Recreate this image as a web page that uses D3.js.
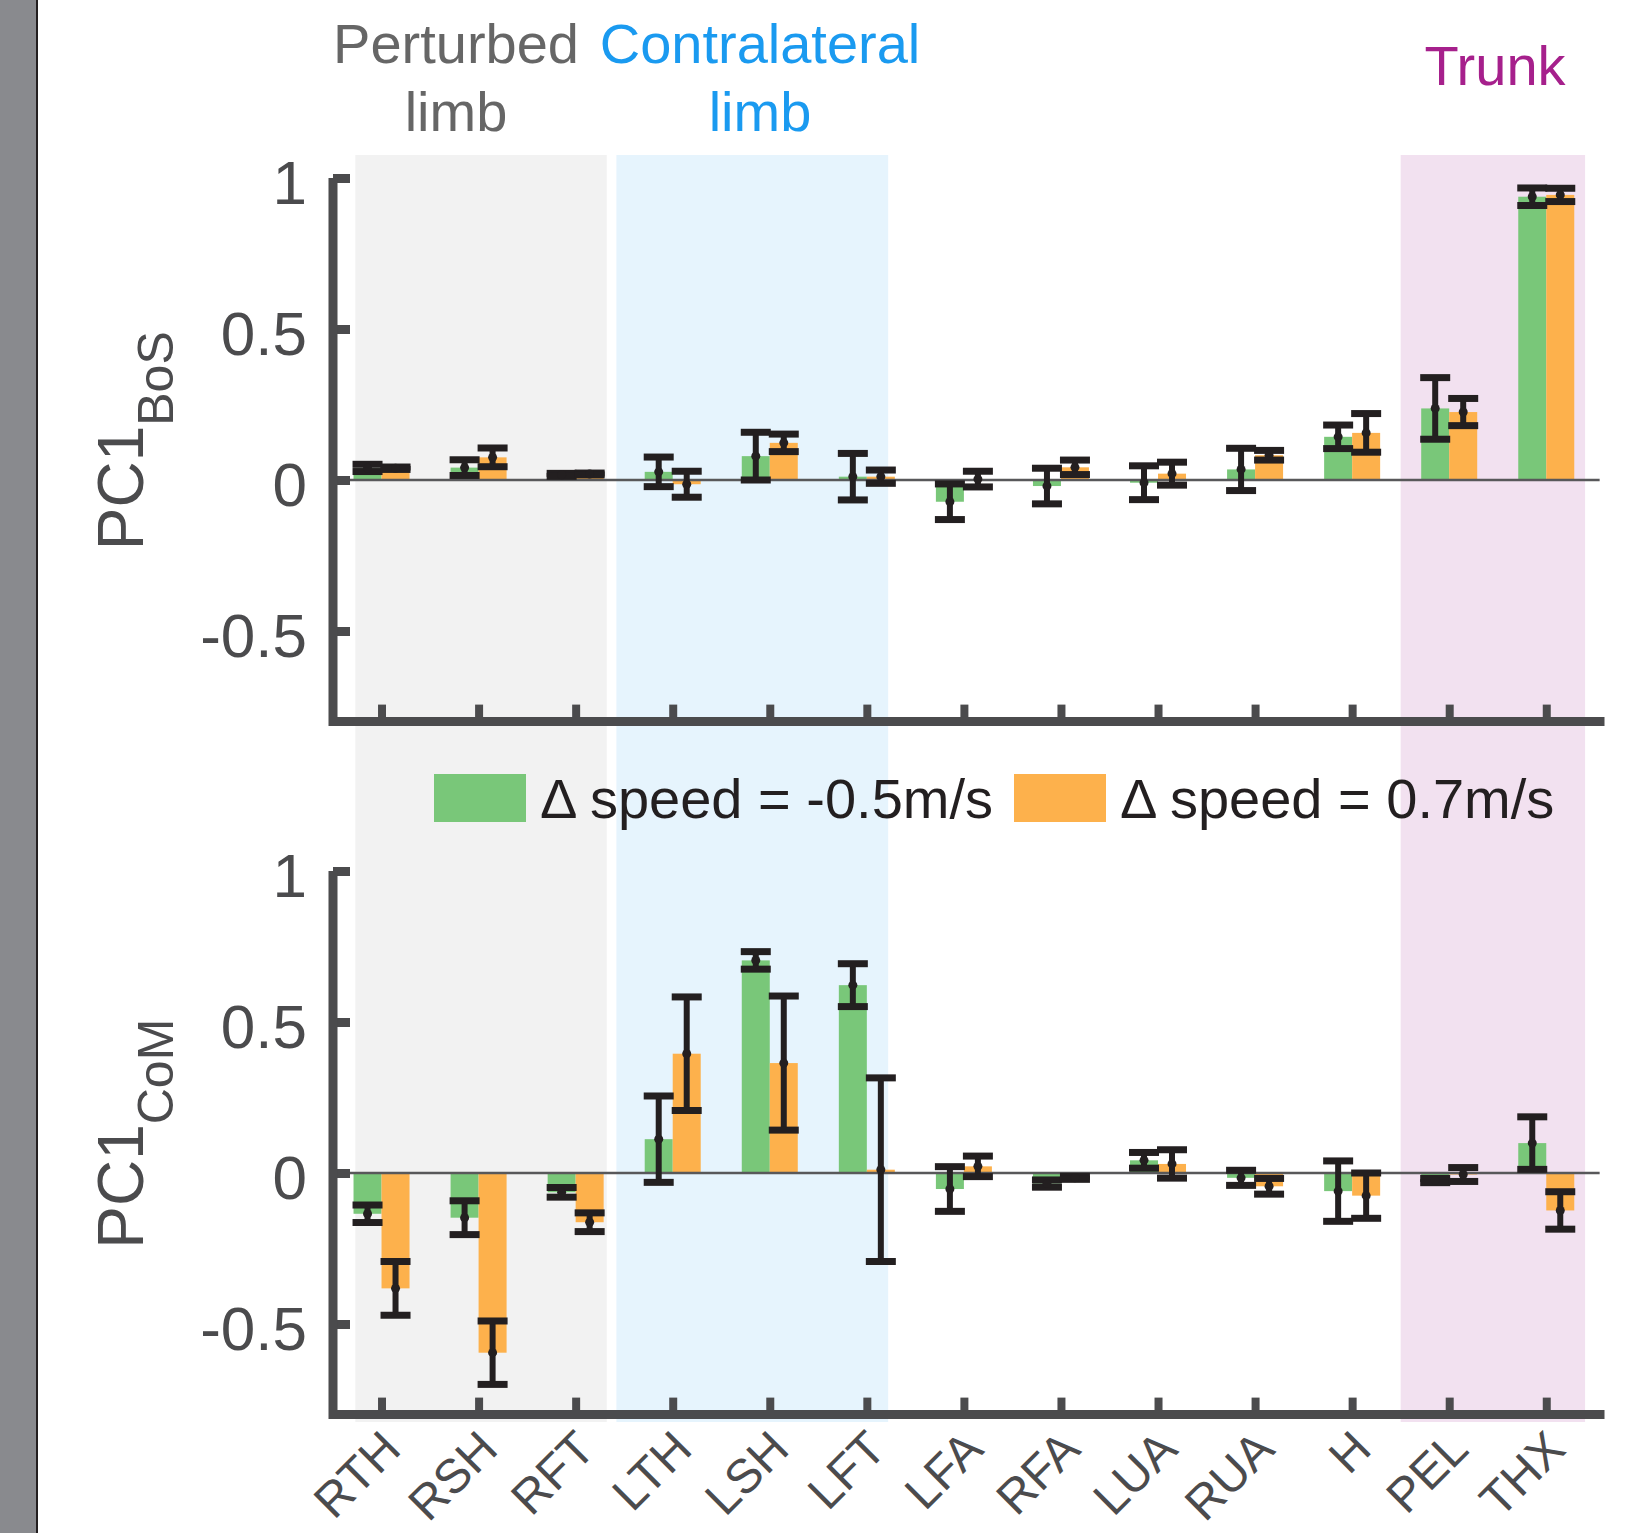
<!DOCTYPE html>
<html>
<head>
<meta charset="utf-8">
<script src="https://cdn.jsdelivr.net/npm/d3@7"></script>
<style>
    body { margin: 0; background: #fff; }
    text { font-family: "Liberation Sans", Arial, sans-serif; }
</style>
</head>
<body>
<div id="chart"></div>
<script>
/** Données */
var categories = ["RTH", "RSH", "RFT", "LTH", "LSH", "LFT", "LFA", "RFA", "LUA", "RUA", "H", "PEL", "THX"];

// PC1 BoS (panneau du haut)
var bosSlow = [0.040, 0.041, 0.017, 0.027, 0.079, 0.011, -0.072, -0.020, -0.009, 0.035, 0.143, 0.237, 0.938];
var bosSlowErr = [0.012, 0.026, 0.005, 0.049, 0.079, 0.077, 0.059, 0.059, 0.056, 0.070, 0.039, 0.102, 0.029];
var bosFast = [0.039, 0.075, 0.020, -0.014, 0.123, 0.011, 0.003, 0.042, 0.021, 0.082, 0.156, 0.225, 0.944];
var bosFastErr = [0.004, 0.031, 0.003, 0.043, 0.029, 0.022, 0.026, 0.024, 0.038, 0.016, 0.064, 0.045, 0.022];

// PC1 CoM (panneau du bas)
var comSlow = [-0.135, -0.148, -0.064, 0.112, 0.704, 0.622, -0.053, -0.035, 0.042, -0.016, -0.060, -0.025, 0.099];
var comSlowErr = [0.029, 0.056, 0.016, 0.143, 0.029, 0.071, 0.074, 0.012, 0.026, 0.025, 0.100, 0.007, 0.087];
var comFast = [-0.382, -0.595, -0.163, 0.395, 0.364, 0.011, 0.022, -0.016, 0.030, -0.044, -0.075, -0.005, -0.124];
var comFastErr = [0.089, 0.105, 0.031, 0.188, 0.222, 0.304, 0.034, 0.005, 0.047, 0.026, 0.075, 0.023, 0.062];

var yTicks = [-0.5, 0, 0.5, 1];
var legendLabels = ["\u0394 speed = -0.5m/s", "\u0394 speed = 0.7m/s"];

// zones colorées (en unités de catégorie, RTH = 1)
var zoneLabels = [["Perturbed", "limb"], ["Contralateral", "limb"], ["Trunk"]];
var zoneStart = [0.73, 3.42, 11.5];
var zoneEnd = [3.32, 6.22, 13.4];

/** Styles */
var GREEN = "#79c779",
    ORANGE = "#fdb14c",
    AXIS = "#4b4b4d",
    ERR = "#231f20";
var zoneFill = ["#f2f2f2", "#e6f4fd", "#f2e1f0"];
var zoneText = ["#666666", "#1a9af0", "#a6208c"];

/** Initialisation du SVG */
var width = 1643,
    height = 1533;

var svg = d3
    .select("#chart")
    .append("svg")
    .attr("width", width)
    .attr("height", height);

svg.append("rect").attr("width", width).attr("height", height).attr("fill", "#fff");

// bande grise à gauche
svg.append("rect").attr("x", 0).attr("y", 0).attr("width", 36).attr("height", height).attr("fill", "#898a8e");
svg.append("line").attr("x1", 37).attr("x2", 37).attr("y1", 0).attr("y2", height)
    .attr("stroke", "#231f20").attr("stroke-width", 2);

/** Echelles */
var x = d3.scaleLinear().domain([0.5, 13.6]).range([333, 1604.5]);
var barW = 0.2885;

var panels = [
    { sub: "BoS", y: d3.scaleLinear().domain([-0.8, 1]).range([721.6, 178]),
      slow: bosSlow, slowErr: bosSlowErr, fast: bosFast, fastErr: bosFastErr, labels: false },
    { sub: "CoM", y: d3.scaleLinear().domain([-0.8, 1]).range([1414.6, 871]),
      slow: comSlow, slowErr: comSlowErr, fast: comFast, fastErr: comFastErr, labels: true }
];

/** Zones de fond (traversent les deux panneaux) */
var zones = svg.append("g");
for (var i = 0; i < zoneStart.length; i++) {
    zones.append("rect")
        .attr("x", x(zoneStart[i]))
        .attr("width", x(zoneEnd[i]) - x(zoneStart[i]))
        .attr("y", 155)
        .attr("height", 1422 - 155)
        .attr("fill", zoneFill[i]);
}

// titres des zones
var zoneCenters = [456, 760, 1495];
var zoneBase = [63, 63, 85];
for (var i = 0; i < zoneLabels.length; i++) {
    var t = svg.append("text")
        .attr("text-anchor", "middle")
        .attr("font-size", 56)
        .attr("fill", zoneText[i]);
    zoneLabels[i].forEach(function (line, k) {
        t.append("tspan").attr("x", zoneCenters[i]).attr("y", zoneBase[i] + k * 68).text(line);
    });
}

/** Dessin d'un panneau */
function drawPanel(p) {
    var g = svg.append("g");
    var y = p.y;

    var series = [
        { vals: p.slow, errs: p.slowErr, color: GREEN, off: -barW },
        { vals: p.fast, errs: p.fastErr, color: ORANGE, off: 0 }
    ];

    // barres
    series.forEach(function (s) {
        g.append("g").selectAll("rect")
            .data(s.vals)
            .enter()
            .append("rect")
            .attr("x", function (d, i) { return x(i + 1 + s.off); })
            .attr("width", x(barW) - x(0))
            .attr("y", function (d) { return y(Math.max(0, d)); })
            .attr("height", function (d) { return Math.abs(y(d) - y(0)); })
            .attr("fill", s.color);
    });

    // ligne du zéro
    g.append("line")
        .attr("x1", x(0.5)).attr("x2", x(13.55))
        .attr("y1", y(0)).attr("y2", y(0))
        .attr("stroke", "#58585a").attr("stroke-width", 2.5);

    // barres d'erreur
    series.forEach(function (s) {
        var eg = g.append("g").selectAll("g")
            .data(s.vals)
            .enter()
            .append("g")
            .attr("transform", function (d, i) {
                return "translate(" + x(i + 1 + s.off + barW / 2) + ",0)";
            });
        eg.append("line")
            .attr("y1", function (d, i) { return y(d - s.errs[i]); })
            .attr("y2", function (d, i) { return y(d + s.errs[i]); })
            .attr("stroke", ERR).attr("stroke-width", 6);
        eg.append("line")
            .attr("x1", -15).attr("x2", 15)
            .attr("y1", function (d, i) { return y(d + s.errs[i]); })
            .attr("y2", function (d, i) { return y(d + s.errs[i]); })
            .attr("stroke", ERR).attr("stroke-width", 7);
        eg.append("line")
            .attr("x1", -15).attr("x2", 15)
            .attr("y1", function (d, i) { return y(d - s.errs[i]); })
            .attr("y2", function (d, i) { return y(d - s.errs[i]); })
            .attr("stroke", ERR).attr("stroke-width", 7);
        eg.append("circle")
            .attr("cy", function (d) { return y(d); })
            .attr("r", 4.5)
            .attr("fill", ERR);
    });

    // axe Y
    var yAxis = g.append("g")
        .attr("transform", "translate(" + x(0.5) + ",0)")
        .call(d3.axisLeft(y).tickValues(yTicks).tickSizeInner(-17).tickSizeOuter(0).tickPadding(26)
            .tickFormat(function (d) { return String(d); }));
    yAxis.select(".domain").remove();
    yAxis.selectAll(".tick line").attr("stroke", AXIS).attr("stroke-width", 9);
    yAxis.selectAll(".tick text")
        .attr("font-size", 62)
        .attr("font-family", "Liberation Sans, Arial, sans-serif")
        .attr("fill", AXIS)
        .attr("dy", "0.41em");

    // axe X
    var xAxis = g.append("g")
        .attr("transform", "translate(0," + y(-0.8) + ")")
        .call(d3.axisBottom(x).tickValues(d3.range(1, 14)).tickSizeInner(-17).tickSizeOuter(0)
            .tickFormat(function (d) { return categories[d - 1]; }));
    xAxis.select(".domain").remove();
    xAxis.selectAll(".tick line").attr("stroke", AXIS).attr("stroke-width", 8);
    if (p.labels) {
        // étiquettes inclinées, gardées dans la page
        xAxis.selectAll(".tick text")
            .attr("font-size", 48)
            .attr("font-family", "Liberation Sans, Arial, sans-serif")
            .attr("fill", AXIS)
            .attr("text-anchor", "end")
            .attr("y", null)
            .attr("dy", null)
            .attr("transform", "translate(21,37) rotate(-45)");
    } else {
        xAxis.selectAll(".tick text").remove();
    }

    // lignes des axes (épaisses, coin carré)
    g.append("path")
        .attr("d", "M" + x(0.5) + "," + y(1) + "V" + y(-0.8) + "H" + x(13.6))
        .attr("fill", "none")
        .attr("stroke", AXIS)
        .attr("stroke-width", 9)
        .attr("stroke-linejoin", "miter");

    // titre de l'axe Y
    var lab = g.append("text")
        .attr("transform", "translate(143," + y(0.13) + ") rotate(-90)")
        .attr("text-anchor", "middle")
        .attr("fill", AXIS);
    lab.append("tspan").attr("font-size", 64).text("PC1");
    lab.append("tspan").attr("font-size", 50).attr("dy", 30).text(p.sub);
}

panels.forEach(drawPanel);

/** Légende */
var legendColors = [GREEN, ORANGE];
var legendX = [434, 1014];
var legend = svg.append("g");
legendLabels.forEach(function (label, i) {
    legend.append("rect")
        .attr("x", legendX[i]).attr("y", 774)
        .attr("width", 92).attr("height", 48)
        .attr("fill", legendColors[i]);
    legend.append("text")
        .attr("x", legendX[i] + 106).attr("y", 818)
        .attr("font-size", 56)
        .attr("fill", "#231f20")
        .text(label);
});
</script>
</body>
</html>
